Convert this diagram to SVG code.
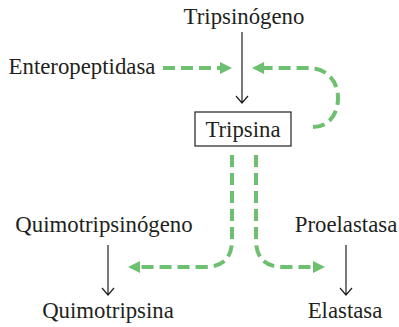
<svg xmlns="http://www.w3.org/2000/svg" width="399" height="327" viewBox="0 0 399 327">
<style>
.t{font-family:'Liberation Serif','DejaVu Serif',serif;font-size:22.8px;fill:#231f20;text-anchor:middle}
.blk{stroke:#231f20;stroke-width:1.2;fill:none}
.grn{stroke:#6cc070;stroke-width:4;fill:none;stroke-dasharray:12 6}
</style>
<defs>
<marker id="ga" viewBox="0 0 12 12" refX="1" refY="6" markerWidth="12" markerHeight="12" markerUnits="userSpaceOnUse" orient="auto">
<path d="M0,0 L12,6 L0,12 z" fill="#6cc070"/>
</marker>
</defs>
<g id="tripsinogeno"><text class="t" x="244" y="24">Tripsinógeno</text></g>
<g id="enteropeptidasa"><text class="t" x="82" y="74">Enteropeptidasa</text></g>
<g id="tripsina"><rect x="195" y="112" width="96" height="34" class="blk"/><text class="t" x="243" y="137">Tripsina</text></g>
<g id="quimotripsinogeno"><text class="t" x="104" y="232">Quimotripsinógeno</text></g>
<g id="quimotripsina"><text class="t" x="108" y="318">Quimotripsina</text></g>
<g id="proelastasa"><text class="t" x="346" y="232">Proelastasa</text></g>
<g id="elastasa"><text class="t" x="345" y="318">Elastasa</text></g>
<g id="connectors">
<path class="blk" d="M242,32 V103 M236,96 L242,103 L248,96"/>
<path class="blk" d="M108,245 V295 M102,288 L108,295 L114,288"/>
<path class="blk" d="M346,245 V295 M340,288 L346,295 L352,288"/>
<path class="grn" d="M163,68 H221" marker-end="url(#ga)"/>
<path class="grn" d="M313,127 C328,127 338,115 338,98 C338,82 328,68 308,68 H263" marker-end="url(#ga)"/>
<path class="grn" d="M232,155 V240 Q232,267 205,267 H139" marker-end="url(#ga)"/>
<path class="grn" d="M256,155 V240 Q256,267 283,267 H314" marker-end="url(#ga)"/>
</g>
</svg>
